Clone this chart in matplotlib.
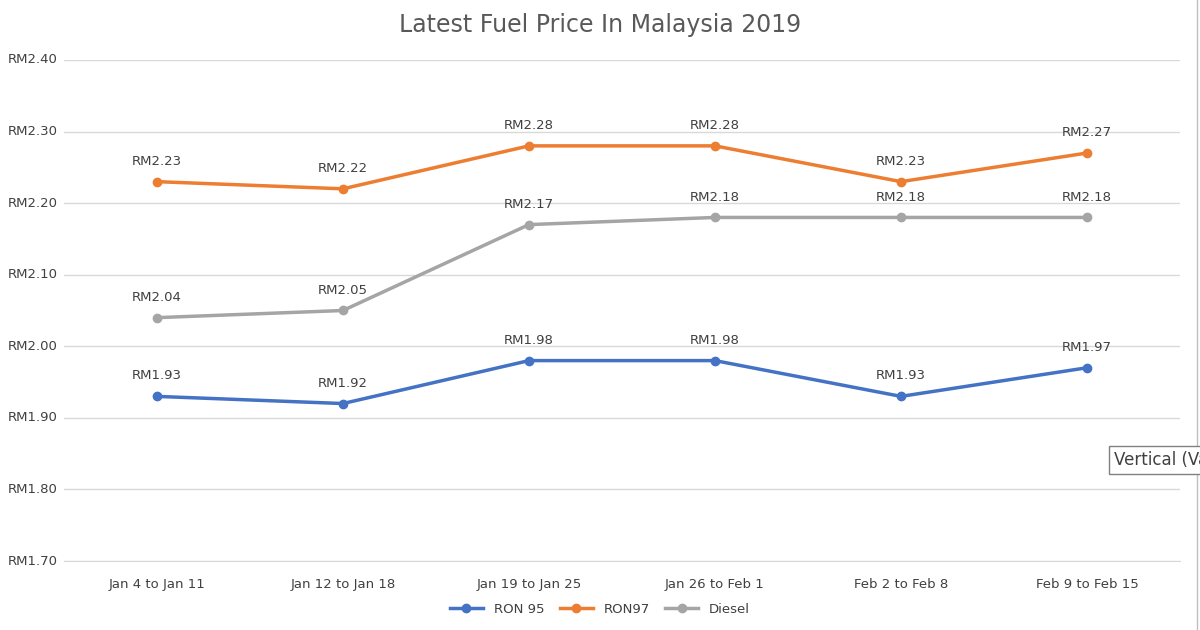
import matplotlib
matplotlib.use("Agg")
import matplotlib.pyplot as plt

weeks = ["Jan 4 to Jan 11", "Jan 12 to Jan 18", "Jan 19 to Jan 25",
         "Jan 26 to Feb 1", "Feb 2 to Feb 8", "Feb 9 to Feb 15"]
ron95 = [1.93, 1.92, 1.98, 1.98, 1.93, 1.97]
ron97 = [2.23, 2.22, 2.28, 2.28, 2.23, 2.27]
diesel = [2.04, 2.05, 2.17, 2.18, 2.18, 2.18]
yticks = [1.70, 1.80, 1.90, 2.00, 2.10, 2.20, 2.30, 2.40]

series = [("RON 95", ron95, "#4472C4"), ("RON97", ron97, "#ED7D31"), ("Diesel", diesel, "#A5A5A5")]

fig = plt.figure(figsize=(12, 6.3), dpi=100)
ax = fig.add_axes([0.0533, 0.1095, 0.93, 0.7953])
x = list(range(len(weeks)))

for name, vals, color in series:
    ax.plot(x, vals, color=color, linewidth=2.5, marker="o", markersize=6, label=name)
    for xi, v in zip(x, vals):
        ax.annotate(f"RM{v:.2f}", (xi, v), xytext=(0, 10), textcoords="offset points",
                    ha="center", va="bottom", fontsize=9.5, color="#404040")

ax.set_xlim(-0.5, len(weeks) - 0.5)
ax.set_ylim(1.70, 2.40)
ax.set_yticks(yticks)
ax.set_yticklabels([])
for t in yticks:
    fig.text(8 / 1200, ax.transData.transform((0, t))[1] / 630, f"RM{t:.2f}",
             ha="left", va="center", fontsize=9.5, color="#404040")
ax.set_xticks(x)
ax.set_xticklabels(weeks, fontsize=9.5, color="#404040")
ax.tick_params(length=0, pad=12)
ax.grid(axis="y", color="#D9D9D9", linewidth=1)
ax.set_axisbelow(True)
for s in ax.spines.values():
    s.set_visible(False)
ax.spines["bottom"].set_visible(True)
ax.spines["bottom"].set_color("#D9D9D9")

fig.text(0.5, 0.96, "Latest Fuel Price In Malaysia 2019", ha="center", va="center",
         fontsize=17, color="#595959")
fig.legend(loc="center", bbox_to_anchor=(0.5, 0.033), ncol=3, frameon=False,
           fontsize=9.5, labelcolor="#404040", handlelength=2.5, columnspacing=1.2)

fig.add_artist(plt.Line2D([1197 / 1200, 1197 / 1200], [0, 1], color="#BFBFBF", linewidth=1))
fig.text(1114 / 1200, 1 - 460 / 630, "Vertical (Va", ha="left", va="center", fontsize=12,
         color="#404040", bbox=dict(facecolor="white", edgecolor="#808080", boxstyle="square,pad=0.3"))

fig.savefig("out.png", dpi=100)
